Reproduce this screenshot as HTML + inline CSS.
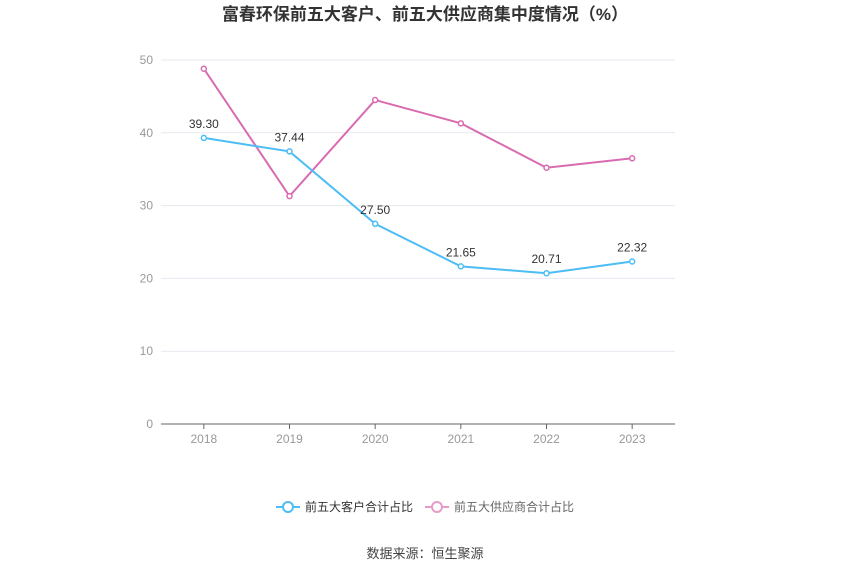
<!DOCTYPE html>
<html><head><meta charset="utf-8"><style>
body{margin:0;background:#fff;font-family:"Liberation Sans","Noto Sans CJK SC",sans-serif}
</style></head><body>
<svg width="850" height="574" xmlns="http://www.w3.org/2000/svg" style="font-family:'Liberation Sans','Noto Sans CJK SC',sans-serif">
<text x="425" y="20" text-anchor="middle" font-size="17" font-weight="bold" fill="#333">富春环保前五大客户、前五大供应商集中度情况（%）</text>
<g id="grid"></g>
<g id="series"></g>
<g>
<g>
<line x1="276" y1="507" x2="300" y2="507" stroke="#4dbdf5" stroke-width="2"/>
<circle cx="288" cy="507" r="5" fill="#fff" stroke="#4dbdf5" stroke-width="2"/>
<text x="305" y="511" font-size="12" fill="#333">前五大客户合计占比</text></g>
<g>
<line x1="425" y1="507" x2="449" y2="507" stroke="#e89ac8" stroke-width="2"/>
<circle cx="437" cy="507" r="5" fill="#fff" stroke="#e89ac8" stroke-width="2"/>
<text x="454" y="511" font-size="12" fill="#666">前五大供应商合计占比</text></g>
</g>
<text x="425" y="558" text-anchor="middle" font-size="13" fill="#444">数据来源：恒生聚源</text>
</svg>
<script>
const categories=["2018","2019","2020","2021","2022","2023"];
const customers=[39.30,37.44,27.50,21.65,20.71,22.32];
const suppliers=[48.8,31.3,44.5,41.3,35.2,36.5];
const yTicks=[0,10,20,30,40,50];
const NS="http://www.w3.org/2000/svg";
const x0=161,x1=675,yb=424,yt=60,ymax=50;
const step=(x1-x0)/categories.length;
const X=i=>x0+step*(i+0.5);
const Y=v=>yb-(v/ymax)*(yb-yt);
function mk(t,a,p){const e=document.createElementNS(NS,t);for(const k in a)e.setAttribute(k,a[k]);p.appendChild(e);return e;}
const g=document.getElementById('grid'),s=document.getElementById('series');
yTicks.forEach(v=>{
 const l=mk('line',{x1:x0,x2:x1,y1:Y(v),y2:Y(v),stroke:v===0?'#666':'#e6e9f0','stroke-width':1},g);
 
 
 const t=mk('text',{x:153,y:Y(v)+4,'text-anchor':'end','font-size':12,fill:'#999'},g);t.textContent=v;
 
 
});
categories.forEach((c,i)=>{
 const tk=mk('line',{x1:X(i),x2:X(i),y1:yb,y2:yb+5,stroke:'#666'},g);
 
 
 const t=mk('text',{x:X(i),y:yb+19,'text-anchor':'middle','font-size':12,fill:'#999'},g);t.textContent=c;
 
 
});
function series(data,color,name,labels){
 const p=mk('polyline',{points:data.map((v,i)=>X(i)+','+Y(v)).join(' '),fill:'none',stroke:color,'stroke-width':2},s);
 
 
 data.forEach((v,i)=>{
  const c=mk('circle',{cx:X(i),cy:Y(v),r:2.5,fill:'#fff',stroke:color,'stroke-width':1.5},s);
  
  
  if(labels){const t=mk('text',{x:X(i),y:Y(v)-10,'text-anchor':'middle','font-size':12,fill:'#333'},s);t.textContent=v.toFixed(2);
  
  }
 });
}
series(suppliers,'#d96bb0','suppliers',false);
series(customers,'#4dbdf5','customers',true);
</script>
</body></html>
